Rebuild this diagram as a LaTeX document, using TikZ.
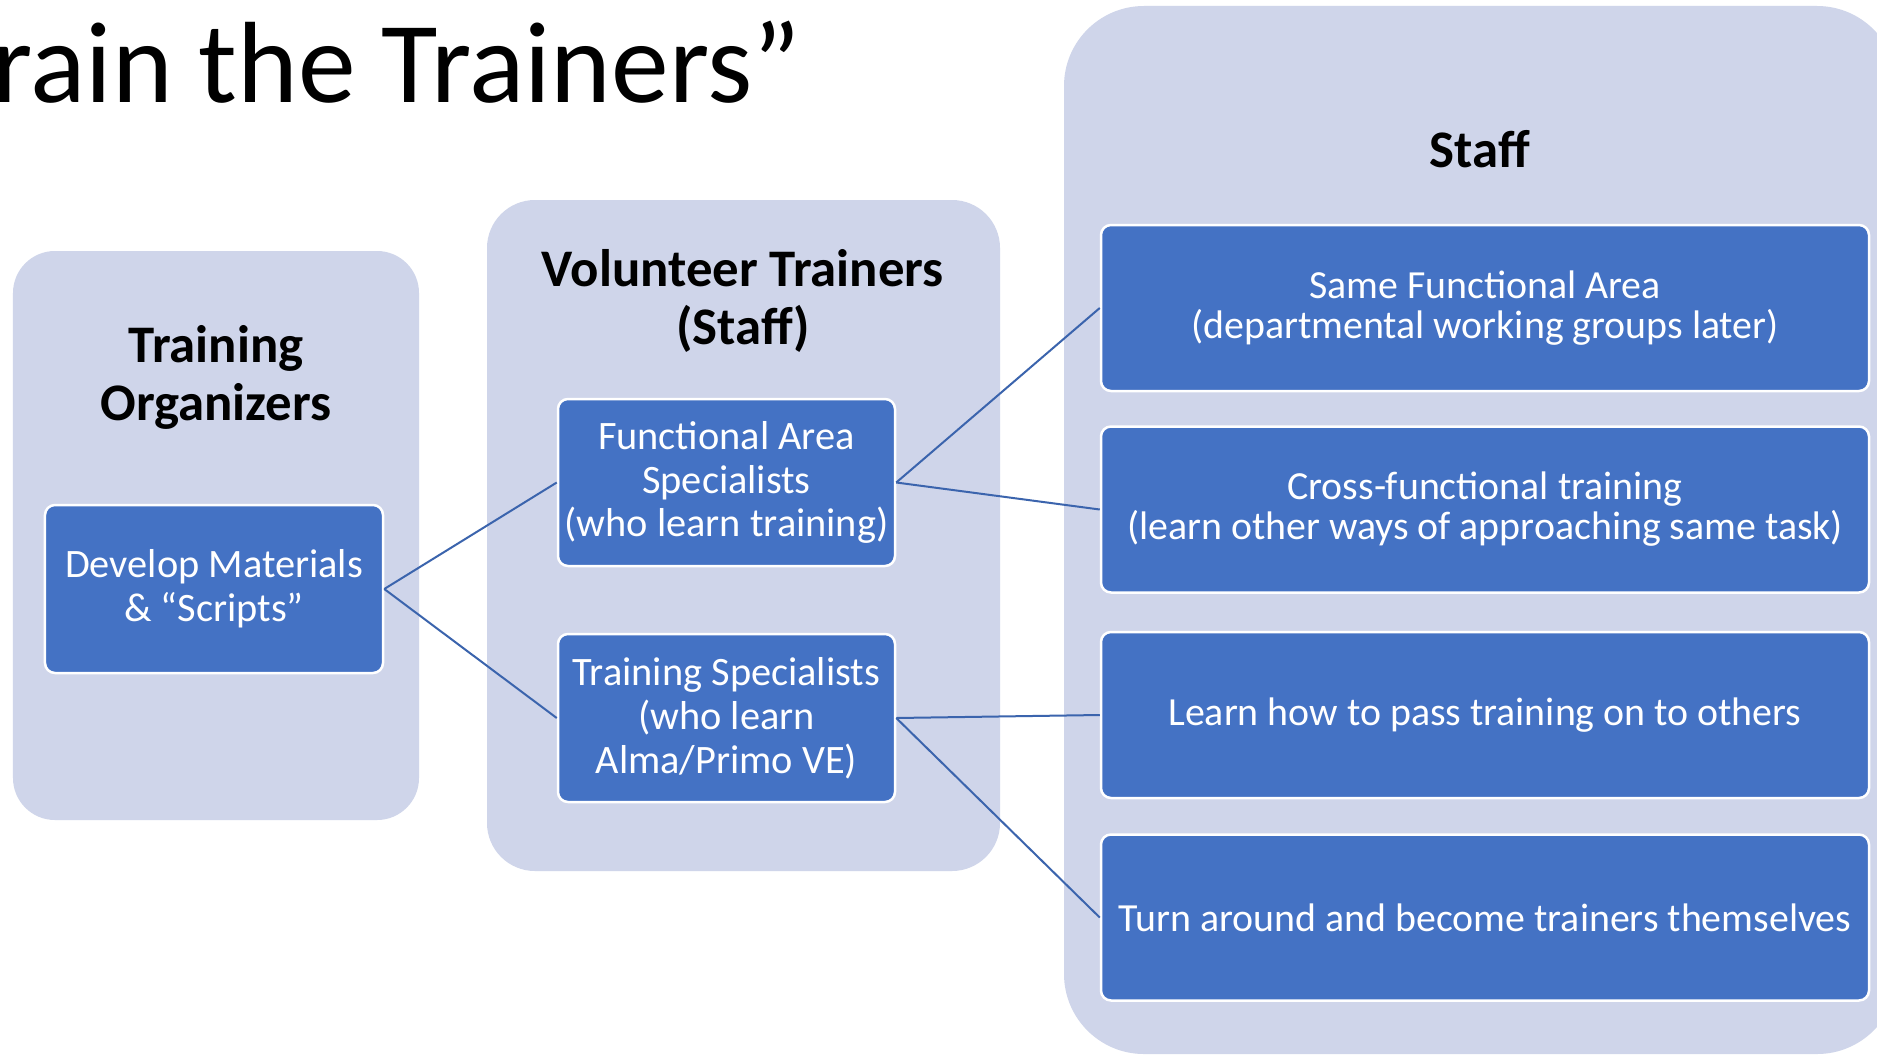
\documentclass[tikz,border=0pt]{standalone}
\usepackage{fontspec}
\setmainfont{Carlito}
\definecolor{contfill}{HTML}{CFD5EA}
\definecolor{boxfill}{HTML}{4472C4}
\definecolor{linecol}{HTML}{3B64AD}
\begin{document}
\begin{tikzpicture}[x=1bp,y=-1bp,
  container/.style={rectangle, fill=contfill, draw=none, inner sep=0pt},
  cbox/.style={rectangle, fill=boxfill, draw=white, line width=2.5bp, rounded corners=10bp,
    text=white, align=center, inner sep=0pt},
  lbox/.style={cbox, font=\fontsize{40.5}{44}\selectfont},
  rbox/.style={cbox, minimum width=768bp, minimum height=166bp, font=\fontsize{40}{40}\selectfont},
  hdr/.style={font=\fontsize{53}{58}\selectfont\bfseries, align=center, inner sep=0pt},
  conn/.style={draw=linecol, line width=2bp}]
\useasboundingbox (0,0) rectangle (1877,1054);
\clip (0,0) rectangle (1877,1054);
\fill[white] (0,0) rectangle (1877,1054);

% title
\node[anchor=base west, inner sep=0pt, font=\fontsize{116}{124}\selectfont] (title) at (-8,102) {rain the Trainers”};

% containers
\node[container, rounded corners=42bp, minimum width=406bp, minimum height=569bp] (c1) at (216,535.5) {};
\node[container, rounded corners=48bp, minimum width=513bp, minimum height=671bp] (c2) at (743.5,535.5) {};
\node[container, rounded corners=80bp, minimum width=833bp, minimum height=1048bp] (c3) at (1480.5,530) {};

% headers
\node[hdr, anchor=base] (h1) at (216,420) {Training\\Organizers};
\node[hdr, anchor=base] (h2) at (743,344) {Volunteer Trainers\\(Staff)};
\node[hdr, anchor=base] (h3) at (1480,167) {Staff};

% boxes
\node[lbox, minimum width=338bp, minimum height=168bp] (dev) at (214,589) {Develop Materials\\\& “Scripts”};
\node[lbox, minimum width=337bp, minimum height=167bp] (fas) at (726.5,482.5) {Functional Area\\Specialists\\(who learn training)};
\node[lbox, minimum width=337bp, minimum height=168bp] (ts) at (726.5,718) {Training Specialists\\(who learn\\Alma/Primo VE)};

\node[rbox] (r1) at (1485,308) {Same Functional Area\\(departmental working groups later)};
\node[rbox] (r2) at (1485,509.5) {Cross-functional training\\(learn other ways of approaching same task)};
\node[rbox] (r3) at (1485,715) {Learn how to pass training on to others};
\node[rbox] (r4) at (1485,917.5) {Turn around and become trainers themselves};

% connectors
\draw[conn] (dev.east) -- (fas.west);
\draw[conn] (dev.east) -- (ts.west);
\draw[conn] (fas.east) -- (r1.west);
\draw[conn] (fas.east) -- (r2.west);
\draw[conn] (ts.east) -- (r3.west);
\draw[conn] (ts.east) -- (r4.west);
\end{tikzpicture}
\end{document}
